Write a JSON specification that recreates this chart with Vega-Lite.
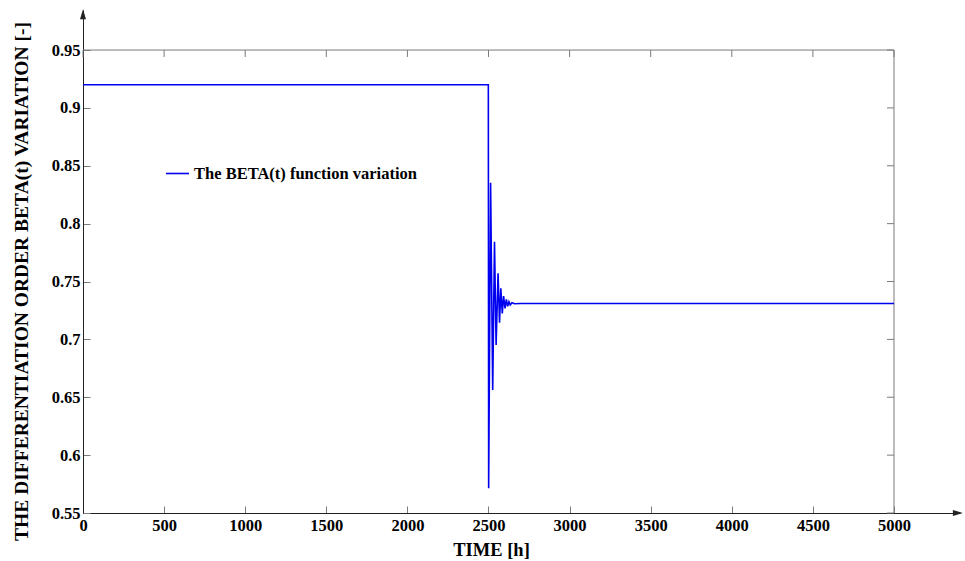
{
  "$schema": "https://vega.github.io/schema/vega-lite/v6.json",
  "width": 877,
  "height": 503,
  "autosize": {"type": "none"},
  "padding": {"left": 83, "top": 10, "right": 5, "bottom": 48},
  "background": "white",
  "config": {"view": {"stroke": null}, "font": "Liberation Serif"},
  "layer": [
    {
      "data": {"values": [{}]},
      "mark": {"type": "rule", "color": "#7a7a7a", "strokeWidth": 1},
      "encoding": {"x": {"datum": 0}, "x2": {"datum": 5000}, "y": {"datum": 0.95}}
    },
    {
      "data": {"values": [{}]},
      "mark": {"type": "rule", "color": "#7a7a7a", "strokeWidth": 1},
      "encoding": {"x": {"datum": 5000}, "y": {"datum": 0.55}, "y2": {"datum": 0.95}}
    },
    {
      "data": {"values": [{"t": 0}, {"t": 500}, {"t": 1000}, {"t": 1500}, {"t": 2000}, {"t": 2500}, {"t": 3000}, {"t": 3500}, {"t": 4000}, {"t": 4500}, {"t": 5000}]},
      "mark": {"type": "rule", "color": "#7a7a7a", "strokeWidth": 1},
      "encoding": {"x": {"field": "t", "type": "quantitative"}, "y": {"datum": 0.95}, "y2": {"datum": 0.944}}
    },
    {
      "data": {"values": [{"v": 0.55}, {"v": 0.6}, {"v": 0.65}, {"v": 0.7}, {"v": 0.75}, {"v": 0.8}, {"v": 0.85}, {"v": 0.9}, {"v": 0.95}]},
      "mark": {"type": "rule", "color": "#7a7a7a", "strokeWidth": 1},
      "encoding": {"y": {"field": "v", "type": "quantitative"}, "x": {"datum": 5000}, "x2": {"datum": 4957}}
    },
    {
      "data": {"values": [{}]},
      "mark": {"type": "point", "shape": "M-1,-0.6L1,0L-1,0.6Z", "filled": true, "color": "#222", "size": 100, "opacity": 1},
      "encoding": {"x": {"datum": 5394}, "y": {"datum": 0.55}}
    },
    {
      "data": {"values": [{}]},
      "mark": {"type": "point", "shape": "M-0.6,1L0,-1L0.6,1Z", "filled": true, "color": "#222", "size": 100, "opacity": 1},
      "encoding": {"x": {"datum": 0}, "y": {"datum": 0.981}}
    },
    {
      "data": {"values": [
        {"t": 0, "beta": 0.92},
        {"t": 2499, "beta": 0.92},
        {"t": 2501, "beta": 0.5713},
        {"t": 2513, "beta": 0.8354},
        {"t": 2526, "beta": 0.6563},
        {"t": 2537, "beta": 0.7844},
        {"t": 2547, "beta": 0.6951},
        {"t": 2559, "beta": 0.7571},
        {"t": 2568, "beta": 0.7144},
        {"t": 2576, "beta": 0.7441},
        {"t": 2585, "beta": 0.7225},
        {"t": 2593, "beta": 0.7375},
        {"t": 2602, "beta": 0.7268},
        {"t": 2610, "beta": 0.7345},
        {"t": 2618, "beta": 0.7285},
        {"t": 2626, "beta": 0.7325},
        {"t": 2634, "beta": 0.7298},
        {"t": 2645, "beta": 0.7316},
        {"t": 2660, "beta": 0.7308},
        {"t": 2700, "beta": 0.731},
        {"t": 5000, "beta": 0.731}
      ]},
      "mark": {"type": "line", "strokeWidth": 1.6},
      "encoding": {
        "x": {
          "field": "t", "type": "quantitative",
          "scale": {"domain": [0, 5407], "nice": false, "zero": false},
          "axis": {
            "values": [0, 500, 1000, 1500, 2000, 2500, 3000, 3500, 4000, 4500, 5000],
            "grid": false, "domainColor": "#222", "tickColor": "#7a7a7a", "tickSize": -7, "labelPadding": 11,
            "labelFlush": false, "labelOverlap": false, "labelBound": false, "format": "d",
            "labelFont": "Liberation Serif", "labelFontWeight": "bold", "labelFontSize": 16.5, "labelColor": "black",
            "title": "TIME [h]", "titleFont": "Liberation Serif", "titleFontWeight": "bold", "titleFontSize": 18.5, "titleColor": "black",
            "titleX": 408, "titleY": 42, "titleBaseline": "alphabetic", "titleAlign": "center", "titleAnchor": null
          }
        },
        "y": {
          "field": "beta", "type": "quantitative",
          "scale": {"domain": [0.55, 0.9846], "nice": false, "zero": false},
          "axis": {
            "values": [0.55, 0.6, 0.65, 0.7, 0.75, 0.8, 0.85, 0.9, 0.95],
            "grid": false, "domainColor": "#222", "tickColor": "#7a7a7a", "tickSize": -7, "labelPadding": 10,
            "labelFlush": false, "labelOverlap": false, "labelBound": false, "format": ".2~f",
            "labelFont": "Liberation Serif", "labelFontWeight": "bold", "labelFontSize": 16.5, "labelColor": "black",
            "title": "THE DIFFERENTIATION ORDER BETA(t) VARIATION [-]", "titleFont": "Liberation Serif", "titleFontWeight": "bold", "titleFontSize": 19.5, "titleColor": "black",
            "titleX": -56, "titleY": 271, "titleBaseline": "alphabetic", "titleAlign": "center", "titleAngle": -90, "titleAnchor": null, "titleLimit": 0
          }
        },
        "color": {
          "datum": "The BETA(t) function variation",
          "scale": {"range": ["#0000f0"]},
          "legend": {
            "orient": "none", "legendX": 82, "legendY": 151, "title": null, "padding": 0,
            "symbolType": "stroke", "symbolSize": 529, "symbolStrokeWidth": 1.6, "labelOffset": 4, "labelLimit": 0,
            "labelFont": "Liberation Serif", "labelFontSize": 16.5, "labelFontWeight": "bold", "labelColor": "black"
          }
        }
      }
    }
  ]
}
